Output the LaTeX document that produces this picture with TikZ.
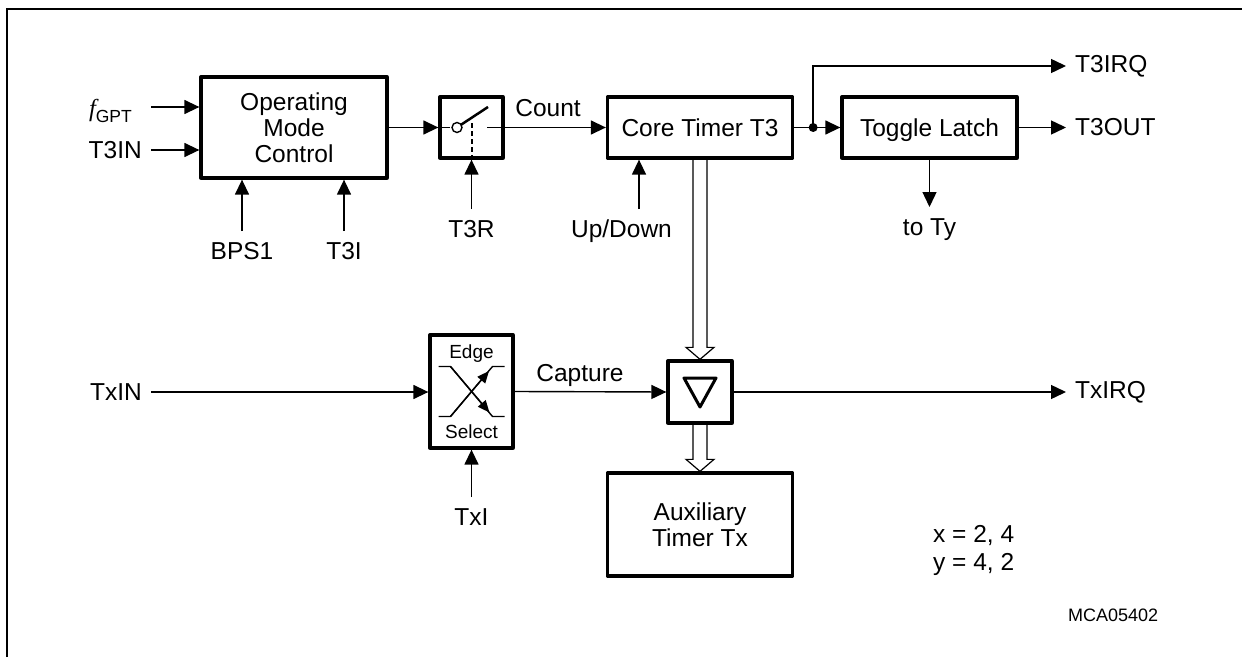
\documentclass[tikz,border=0pt]{standalone}
\usepackage{fontspec}
\setmainfont{Liberation Sans}
\newfontfamily\fserif{Liberation Serif}
\usetikzlibrary{arrows.meta,positioning,calc}

\tikzset{
  blk/.style={draw, line width=3.3pt, line join=round, align=center, inner sep=0pt, text depth=0pt},
  wire/.style={line width=1.4pt},
  sig/.style={wire, ->},
  lbl/.style={inner xsep=9pt, inner ysep=11pt},
  smalltxt/.style={font=\fontsize{19}{22}\selectfont, inner sep=0pt},
  bus/.style={line width=1.2pt, line join=miter}
}

\begin{document}
\begin{tikzpicture}[x=1pt, y=-1pt, font=\fontsize{24.5}{26}\selectfont,
  >={Triangle[length=15pt,width=14pt]}]
  \useasboundingbox (0,0) rectangle (1242,658);
  % frame
  \draw[line width=1.5pt] (7,657) -- (7,9) -- (1242,9);

  % blocks
  \node[blk, minimum width=186pt, minimum height=101pt] (omc) at (294,127.5) {Operating\\Mode\\Control};
  \node[blk, minimum width=63pt, minimum height=61pt] (sw) at (471.5,127.5) {};
  \node[blk, minimum width=185pt, minimum height=61pt] (core) at (700,127.5) {Core Timer T3};
  \node[blk, minimum width=175pt, minimum height=61pt] (tgl) at (929.5,127.5) {Toggle Latch};
  \node[blk, minimum width=83pt, minimum height=113pt] (edge) at (471.5,391.5) {};
  \node[blk, minimum width=64pt, minimum height=62pt] (cap) at (700,392) {};
  \node[blk, minimum width=185pt, minimum height=103pt] (aux) at (700,524.5) {Auxiliary\\Timer Tx};

  % inputs of the mode control
  \node[lbl, anchor=base east] (fgpt) at (141,117) {{\fserif\itshape f}\raisebox{-6pt}{\fontsize{17.5}{18}\selectfont GPT}};
  \coordinate (fin) at (151,107);
  \draw[sig] (fin) -- (fin -| omc.west);
  \node[lbl, anchor=east] (t3in) at (151,150) {T3IN};
  \draw[sig] (t3in.east) -- (t3in.east -| omc.west);
  \node[lbl, anchor=north] (bps1) at (242,231) {BPS1};
  \draw[sig] (bps1.north) -- (bps1.north |- omc.south);
  \node[lbl, anchor=north] (t3i) at (344,231) {T3I};
  \draw[sig] (t3i.north) -- (t3i.north |- omc.south);

  % run switch
  \draw[sig] (omc.east) -- (sw.west);
  \draw[wire] (sw.west) -- ++(12,0);
  \draw[wire, fill=white] ($(sw.center)+(-14.5,0)$) circle (5);
  \draw[line width=2.5pt] ($(sw.center)+(-10.4,-2.8)$) -- ($(sw.center)+(16.5,-20.5)$);
  \draw[line width=2pt, dash pattern=on 5pt off 3pt] (sw.south) -- ++(0,-38);
  \draw[sig] ($(sw.center)+(15.5,0)$) -- (core.west);
  \node[inner sep=0pt] (count) at (548,108.5) {Count};
  \node[lbl, anchor=north] (t3r) at (471.5,209) {T3R};
  \draw[sig] (t3r.north) -- (t3r.north |- sw.south);

  % core timer outputs
  \node[lbl, anchor=north] (updown) at (621.5,209) {Up/Down};
  \coordinate (ud) at ([xshift=17.5pt]updown.north);
  \draw[sig] (ud) -- (ud |- core.south);
  \coordinate (jn) at ([xshift=19pt]core.east);
  \node[lbl, anchor=west] (t3irq) at (1066,66) {T3IRQ};
  \node[lbl, anchor=west] (t3out) at (1066,127.5) {T3OUT};
  \draw[wire] (core.east) -- (jn);
  \draw[sig] (jn) -- (tgl.west);
  \draw[sig] (jn) |- (t3irq.west);
  \fill (jn) circle (4.5);
  \draw[sig] (tgl.east) -- (t3out.west);
  \node[lbl, anchor=north] (toty) at (929.5,207) {to Ty};
  \draw[sig] (tgl.south) -- (toty.north);

  % capture path
  \node[lbl, anchor=east] (txin) at (151,392) {TxIN};
  \draw[sig] (txin.east) -- (txin.east -| edge.west);
  \node[smalltxt] (edgetxt) at ($(edge.center)+(0,-38)$) {Edge};
  \node[smalltxt] (seltxt) at ($(edge.center)+(0,40)$) {Select};
  \draw[wire] ($(edge.center)+(-33,-25)$) -- ++(12,0) -- ++(42,50) -- ++(12,0);
  \draw[wire] ($(edge.center)+(-33,25)$) -- ++(12,0) -- ++(42,-50) -- ++(12,0);
  \draw[wire, -{Triangle[length=12pt,width=10pt]}] ($(edge.center)+(-21,-25)$) -- ($(edge.center)+(18,21)$);
  \draw[wire, -{Triangle[length=12pt,width=10pt]}] ($(edge.center)+(-21,25)$) -- ($(edge.center)+(17.5,-20.5)$);
  \node[lbl, anchor=north] (txi) at (471.5,497) {TxI};
  \draw[sig] (txi.north) -- (txi.north |- edge.south);
  \draw[sig] (edge.east) -- (cap.west);
  \node[inner sep=0pt] (capture) at (580,375) {Capture};
  \draw[line width=3pt, line join=round] ($(cap.center)+(-16,-14)$) -- ($(cap.center)+(16,-14)$) -- ($(cap.center)+(0,15)$) -- cycle;
  \node[lbl, anchor=west] (txirq) at (1066,392) {TxIRQ};
  \draw[sig] (cap.east) -- (txirq.west);

  % buses
  \draw[bus] ($(core.south)+(-7,0)$) -- ($(cap.north)+(-7,-12)$) -- ++(-7,0) -- (cap.north)
    -- ++(14,-12) -- ++(-7,0) -- ($(core.south)+(7,0)$);
  \draw[bus] ($(cap.south)+(-7,0)$) -- ($(aux.north)+(-7,-12)$) -- ++(-7,0) -- (aux.north)
    -- ++(14,-12) -- ++(-7,0) -- ($(cap.south)+(7,0)$);

  % notes
  \node[anchor=north west, align=left, font=\fontsize{24.5}{28}\selectfont, inner sep=0pt] (note) at (933,525) {x = 2, 4\\y = 4, 2};
  \node[anchor=west, font=\fontsize{18}{20}\selectfont, inner sep=0pt] (mca) at (1068,615) {MCA05402};
\end{tikzpicture}
\end{document}
